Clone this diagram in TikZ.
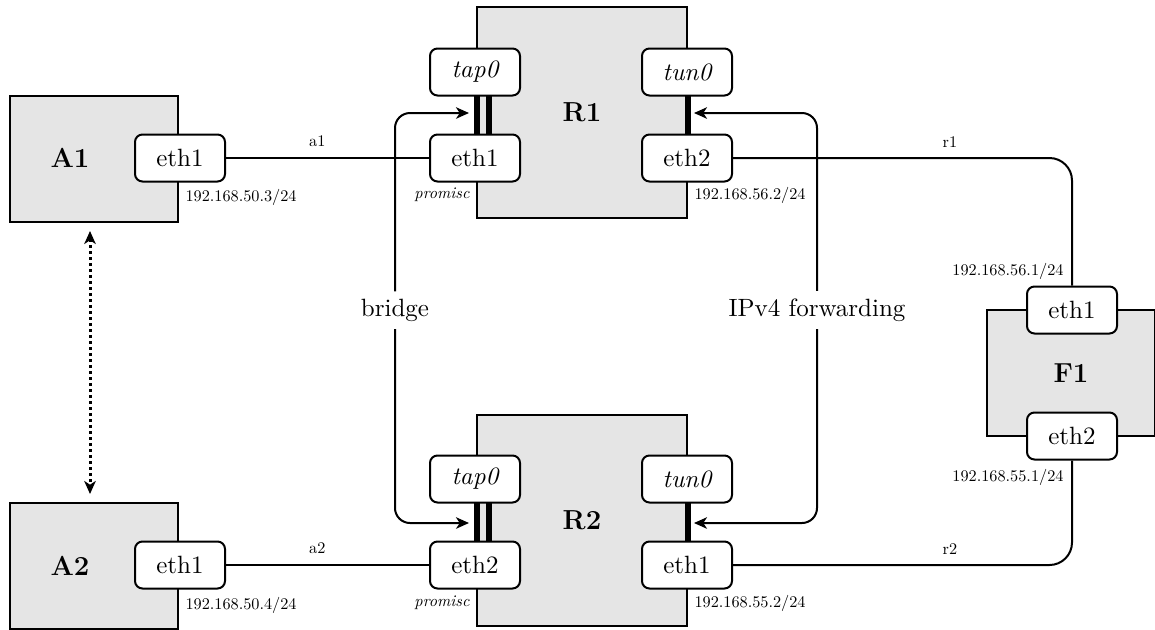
\documentclass[tikz,border=0pt]{standalone}
\usepackage{tikz}
\usetikzlibrary{positioning,arrows.meta}
\definecolor{hostgray}{gray}{0.9}
\font\ipfnt="[lmroman10-regular.otf]" at 6.5pt
\font\ipitfnt="[lmroman10-italic.otf]" at 6.5pt

\begin{document}
\begin{tikzpicture}[x=0.4pt,y=-0.4pt,node distance=34.4pt,on grid,
  host/.style={draw,fill=hostgray,line width=0.8pt,minimum width=67.2pt,minimum height=50.4pt,inner sep=0pt,font=\fontsize{11}{13}\selectfont\bfseries},
  router/.style={host,minimum width=84pt,minimum height=84.4pt},
  iface/.style={draw,fill=white,line width=0.8pt,rounded corners=3pt,minimum width=36pt,minimum height=18.8pt,inner sep=0pt},
  hostname/.style={font=\fontsize{11}{13}\selectfont\bfseries,inner sep=0pt},
  ip/.style={font=\ipfnt,inner sep=0pt},
  link/.style={line width=0.8pt},
  bar/.style={line width=2.4pt},
  flow/.style={line width=0.8pt,rounded corners=6pt,{Stealth[length=5.2pt,width=4.6pt,inset=1.5pt]}-{Stealth[length=5.2pt,width=4.6pt,inset=1.5pt]}},
  flowlabel/.style={fill=white,inner sep=3pt}]
  \useasboundingbox (0,0) rectangle (1155,629);

  % hosts and routers
  \node[host] (a1) at (94,159) {};
  \node[host] (a2) at (94,566) {};
  \node[hostname] (a1name) at (70,158) {A1};
  \node[hostname] (a2name) at (70,566) {A2};
  \node[router] (r1) at (582,112.5) {R1};
  \node[router] (r2) at (582,520.5) {R2};
  \node[host] (f1) at (1071,373) {F1};

  % tap / tun bars
  \draw[bar] ([xshift=0.8pt]475,72) -- ([xshift=0.8pt]475,158);
  \draw[bar] ([xshift=5.6pt]475,72) -- ([xshift=5.6pt]475,158);
  \draw[bar] (688,72) -- (688,158);
  \draw[bar] ([xshift=0.8pt]475,480) -- ([xshift=0.8pt]475,565);
  \draw[bar] ([xshift=5.6pt]475,480) -- ([xshift=5.6pt]475,565);
  \draw[bar] (688,480) -- (688,565);

  % interfaces
  \node[iface] (a1eth1) at (180,158) {eth1};
  \node[iface] (a2eth1) at (180,565) {eth1};
  \node[iface] (r1eth1) at (475,158) {eth1};
  \node[iface] (r1tap) [above=of r1eth1] {\itshape tap0};
  \node[iface] (r1eth2) at (687,158) {eth2};
  \node[iface] (r1tun) [above=of r1eth2] {\itshape tun0};
  \node[iface] (r2eth2) at (475,565) {eth2};
  \node[iface] (r2tap) [above=of r2eth2] {\itshape tap0};
  \node[iface] (r2eth1) at (687,565) {eth1};
  \node[iface] (r2tun) [above=of r2eth1] {\itshape tun0};
  \node[iface] (f1eth1) at (1072,310) {eth1};
  \node[iface] (f1eth2) [below=50.4pt of f1eth1] {eth2};

  % addresses
  \node[ip,anchor=west] (a1ip) at (185,197) {192.168.50.3/24};
  \node[ip,anchor=west] (a2ip) at (185,605) {192.168.50.4/24};
  \node[ip,anchor=west] (r1ip) at (694,195) {192.168.56.2/24};
  \node[ip,anchor=west] (r2ip) at (694,603) {192.168.55.2/24};
  \node[ip,anchor=east] (f1ip1) at (1064,271) {192.168.56.1/24};
  \node[ip,anchor=east] (f1ip2) at (1064,477) {192.168.55.1/24};
  \node[ip,anchor=east,font=\ipitfnt] (r1prom) at (470,195) {promisc};
  \node[ip,anchor=east,font=\ipitfnt] (r2prom) at (470,603) {promisc};

  % links
  \draw[link] (a1eth1) -- node[ip,pos=0.45,above=4pt] {a1} (r1eth1);
  \draw[link] (a2eth1) -- node[ip,pos=0.45,above=4pt] {a2} (r2eth2);
  \draw[link,rounded corners=9pt] (r1eth2) -| node[ip,pos=0.32,above=4pt] {r1} (f1eth1.north);
  \draw[link,rounded corners=9pt] (r2eth1) -| node[ip,pos=0.32,above=4pt] {r2} (f1eth2.south);

  % bridge and forwarding
  \coordinate (br1) at (469,113);
  \coordinate (br2) at (469,523);
  \coordinate (fw1) at (694,113);
  \coordinate (fw2) at (694,523);
  \draw[flow] (br1) -| (395,310) node[flowlabel] (bridge) {bridge} |- (br2);
  \draw[flow] (fw1) -| (817,310) node[flowlabel] (fwd) {IPv4 forwarding} |- (fw2);

  % a1 <-> a2
  \draw[line width=1.2pt,dash pattern=on 1.2pt off 1.2pt,{Stealth[length=5.2pt,width=4.6pt,inset=1.5pt]}-{Stealth[length=5.2pt,width=4.6pt,inset=1.5pt]},shorten <=3.2pt,shorten >=3.2pt]
    ([xshift=-1.6pt]a1.south) -- ([xshift=-1.6pt]a2.north);
\end{tikzpicture}
\end{document}
